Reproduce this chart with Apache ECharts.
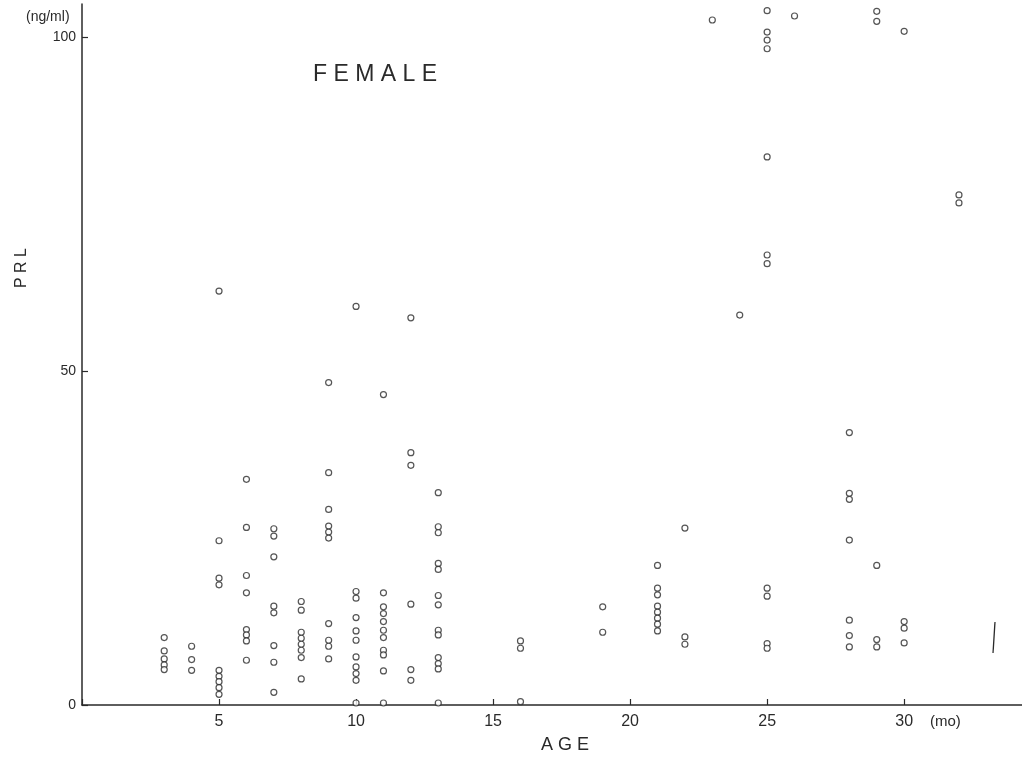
<!DOCTYPE html>
<html>
<head>
<meta charset="utf-8">
<script src="https://cdn.jsdelivr.net/npm/echarts@6/dist/echarts.min.js"></script>
<style>
    html, body { margin: 0; padding: 0; background: #fff; }
    #prl_chart { width: 1022px; height: 757px; }
</style>
</head>
<body>
<div id="prl_chart"></div>
<script>
// age in months, and the PRL readings (ng/ml) plotted at each age
var ages = [3, 4, 5, 6, 7, 8, 9, 10, 11, 12, 13, 16, 19, 21, 22, 23, 24, 25, 26, 28, 29, 30, 32];
var prlByAge = [
    [10.1, 8.1, 6.9, 6.0, 5.3],
    [8.8, 6.8, 5.2],
    [62.0, 24.6, 19.0, 18.0, 5.2, 4.3, 3.5, 2.6, 1.6],
    [33.8, 26.6, 19.4, 16.8, 11.3, 10.5, 9.6, 6.7],
    [26.4, 25.3, 22.2, 14.8, 13.8, 8.9, 6.4, 1.9],
    [15.5, 14.2, 10.9, 10.0, 9.1, 8.2, 7.1, 3.9],
    [48.3, 34.8, 29.3, 26.8, 25.9, 25.0, 12.2, 9.7, 8.8, 6.9],
    [59.7, 17.0, 16.0, 13.1, 11.1, 9.7, 7.2, 5.7, 4.7, 3.7, 0.3],
    [46.5, 16.8, 14.7, 13.7, 12.5, 11.2, 10.1, 8.2, 7.5, 5.1, 0.3],
    [58.0, 37.8, 35.9, 15.1, 5.3, 3.7],
    [31.8, 26.7, 25.8, 21.2, 20.3, 16.4, 15.0, 11.2, 10.5, 7.1, 6.2, 5.4, 0.3],
    [9.6, 8.5, 0.5],
    [14.7, 10.9],
    [20.9, 17.5, 16.5, 14.8, 13.9, 13.0, 12.1, 11.1],
    [26.5, 10.2, 9.1],
    [102.6],
    [58.4],
    [104.0, 100.8, 99.6, 98.3, 82.1, 67.4, 66.1, 17.5, 16.3, 9.2, 8.5],
    [103.2],
    [40.8, 31.7, 30.8, 24.7, 12.7, 10.4, 8.7],
    [103.9, 102.4, 20.9, 9.8, 8.7],
    [100.9, 12.5, 11.5, 9.3],
    [76.4, 75.2]
];
var xTicks = [5, 10, 15, 20, 25, 30];
var yTicks = [0, 50, 100];

var points = [];
ages.forEach(function(age, i){
    prlByAge[i].forEach(function(v){
        points.push([age, v]);
    });
});

var ink = '#2a2a2a';
var font = 'Liberation Sans, Arial, sans-serif';

var myChart = echarts.init(document.getElementById('prl_chart'));
var option = {
    backgroundColor: '#fff',
    animation: false,
    title: {
        text: 'F E M A L E',
        left: 308,
        top: 58,
        textStyle: { color: ink, fontSize: 23, fontWeight: 'normal', fontFamily: font }
    },
    grid: { left: 82, right: 0, top: 4, bottom: 52, outerBoundsMode: 'none', containLabel: false },
    xAxis: {
        type: 'value',
        min: 0,
        max: 34.3,
        interval: 5,
        axisLine: { lineStyle: { color: ink, width: 1.5 } },
        axisTick: { inside: true, length: 6, lineStyle: { color: ink, width: 1.2 } },
        axisLabel: {
            color: ink, fontSize: 16, fontFamily: font, margin: 9,
            showMaxLabel: false,
            formatter: function(v){ return xTicks.indexOf(v) >= 0 ? String(v) : ''; }
        },
        splitLine: { show: false }
    },
    yAxis: {
        type: 'value',
        min: 0,
        max: 105,
        interval: 50,
        axisLine: { show: true, lineStyle: { color: ink, width: 1.5 } },
        axisTick: { show: true, inside: true, length: 6, lineStyle: { color: ink, width: 1.2 } },
        axisLabel: {
            color: ink, fontSize: 14, fontFamily: font, margin: 6,
            showMaxLabel: false,
            formatter: function(v){ return yTicks.indexOf(v) >= 0 ? String(v) : ''; }
        },
        splitLine: { show: false }
    },
    graphic: [
        { type: 'text', left: 26, top: 10, style: { text: '(ng/ml)', fill: ink, fontSize: 14, fontFamily: font } },
        { type: 'text', left: 930, top: 714, style: { text: '(mo)', fill: ink, fontSize: 15, fontFamily: font } },
        { type: 'text', x: 565, y: 745, style: { text: 'A G E', fill: ink, fontSize: 18, fontFamily: font, align: 'center', verticalAlign: 'middle' } },
        { type: 'text', x: 22, y: 268, rotation: Math.PI / 2, style: { text: 'P R L', fill: ink, fontSize: 16, fontFamily: font, align: 'center', verticalAlign: 'middle' } },
        { type: 'line', shape: { x1: 995, y1: 622, x2: 993, y2: 653 }, style: { stroke: ink, lineWidth: 1.3 } }
    ],
    series: [
        {
            name: 'PRL',
            type: 'scatter',
            symbol: 'circle',
            symbolSize: 6,
            itemStyle: { color: '#fff', borderColor: ink, borderWidth: 1.2 },
            data: points
        }
    ]
};
myChart.setOption(option);
</script>
</body>
</html>
